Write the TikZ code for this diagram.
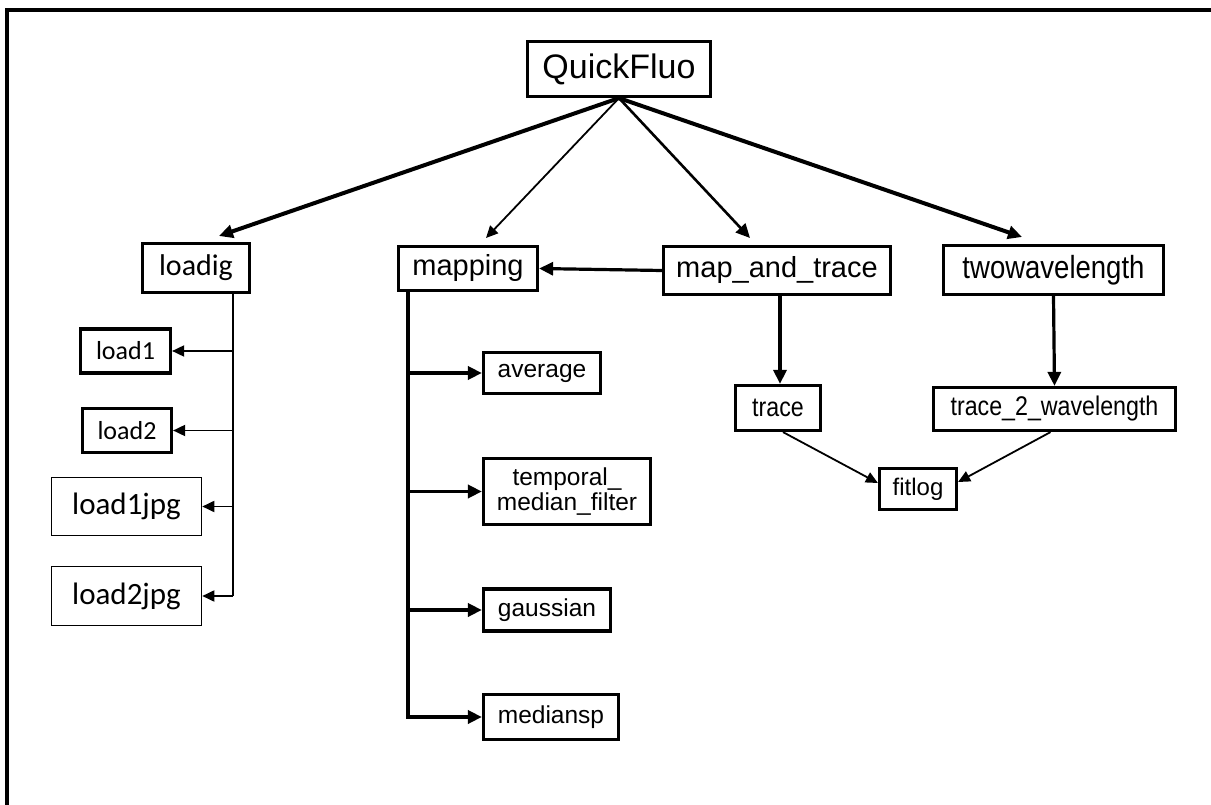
\documentclass[tikz,border=0pt]{standalone}
\usepackage{fontspec}
\setmainfont{Liberation Sans}
\newfontfamily\carl{Carlito}
\newfontfamily\narr[FakeStretch=0.86]{Liberation Sans}
\usetikzlibrary{arrows.meta}
\begin{document}
\begin{tikzpicture}[x=1pt,y=-1pt,
  bx/.style={draw, line width=3.2pt, inner sep=0pt, align=center},
  thinbx/.style={draw, line width=1.6pt, inner sep=0pt, align=center},
  arr/.style={-{Triangle[length=14pt,width=13pt]}},
  arrs/.style={-{Triangle[length=12pt,width=11pt]}},
  fa/.style={font=\fontsize{29}{33}\selectfont},
  fb/.style={font=\fontsize{24.5}{25}\selectfont},
  fc/.style={font=\carl\fontsize{26}{30}\selectfont}]
\useasboundingbox (0,0) rectangle (1211,805);
\draw[line width=3.2pt] (1220,10) -- (7,10) -- (7,815);

% level 0
\node[bx, minimum width=183, minimum height=55, font=\fontsize{34}{40}\selectfont] (qf) at (619,69) {QuickFluo};

% level 1
\node[bx, minimum width=107, minimum height=49, font=\carl\fontsize{30}{34}\selectfont] (loadig) at (196,268) {loadig};
\node[bx, minimum width=139, minimum height=44, fa] (mapping) at (468,268.5) {mapping};
\node[bx, minimum width=227, minimum height=48, fa] (mat) at (777,270.5) {map\_and\_trace};
\node[bx, minimum width=220, minimum height=49, font=\narr\fontsize{32}{36}\selectfont] (two) at (1053.5,270) {twowavelength};

% loadig children
\node[bx, minimum width=90, minimum height=44, fc] (load1) at (125.5,351) {load1};
\node[bx, minimum width=89, minimum height=44, fc] (load2) at (127,430.5) {load2};
\node[thinbx, minimum width=150, minimum height=58, font=\carl\fontsize{31}{34}\selectfont] (load1jpg) at (126.5,506.5) {load1jpg};
\node[thinbx, minimum width=150, minimum height=59, font=\carl\fontsize{31}{34}\selectfont] (load2jpg) at (126.5,596) {load2jpg};

% mapping children
\node[bx, minimum width=117, minimum height=41, fb] (average) at (542,373) {average};
\node[bx, minimum width=167, minimum height=66, fb] (temporal) at (567,491.5) {temporal\_\\median\_filter};
\node[bx, minimum width=127, minimum height=42, fb] (gaussian) at (547,610) {gaussian};
\node[bx, minimum width=135, minimum height=45, fb] (mediansp) at (551,717) {mediansp};

% trace nodes
\node[bx, minimum width=85, minimum height=45, font=\narr\fontsize{27}{30}\selectfont] (trace) at (778,408) {trace};
\node[bx, minimum width=242, minimum height=43, font=\narr\fontsize{27}{30}\selectfont] (trace2) at (1054.5,409) {trace\_2\_wavelength};
\node[bx, minimum width=77, minimum height=41, font=\fontsize{24}{27}\selectfont] (fitlog) at (918,489) {fitlog};

% fan from QuickFluo
\coordinate (t1) at (219,236);
\coordinate (t2) at (486,238);
\coordinate (t3) at (750,238);
\coordinate (t4) at (1022,237);
\draw[arr, line width=4pt] (qf.south) -- (t1);
\draw[arrs, line width=1.8pt] (qf.south) -- (t2);
\draw[arr, line width=2.6pt] (qf.south) -- (t3);
\draw[arr, line width=4pt] (qf.south) -- (t4);

% loadig tree
\coordinate (lx) at (233,0);
\draw[line width=1.8pt] (loadig.south -| lx) -- (load2jpg.east -| lx);
\draw[arrs, line width=1.8pt] (load1.east -| lx) -- (load1.east);
\draw[arrs, line width=1.8pt] (load2.east -| lx) -- (load2.east);
\draw[arrs, line width=1.8pt] (load1jpg.east -| lx) -- (load1jpg.east);
\draw[arrs, line width=1.8pt] (load2jpg.east -| lx) -- (load2jpg.east);

% mapping tree
\coordinate (mx) at (408,0);
\draw[arr, line width=3.5pt] (mapping.south -| mx) -- (mediansp.west -| mx) -- (mediansp.west);
\draw[arr, line width=3.5pt] (average.west -| mx) -- (average.west);
\draw[arr, line width=3.5pt] (temporal.west -| mx) -- (temporal.west);
\draw[arr, line width=3.5pt] (gaussian.west -| mx) -- (gaussian.west);

% map_and_trace links
\draw[arr, line width=3.2pt] (mat.west) -- (mapping.east);
\draw[arr, line width=3.2pt] ([xshift=3pt]mat.south) -- ([xshift=2pt]trace.north);
\draw[arr, line width=3.2pt] (two.south) -- (trace2.north);

% to fitlog
\draw[arrs, line width=1.8pt] ([xshift=5pt]trace.south) -- ([yshift=6pt]fitlog.west);
\draw[arrs, line width=1.8pt] ([xshift=-4pt]trace2.south) -- ([yshift=7pt]fitlog.east);
\end{tikzpicture}
\end{document}
